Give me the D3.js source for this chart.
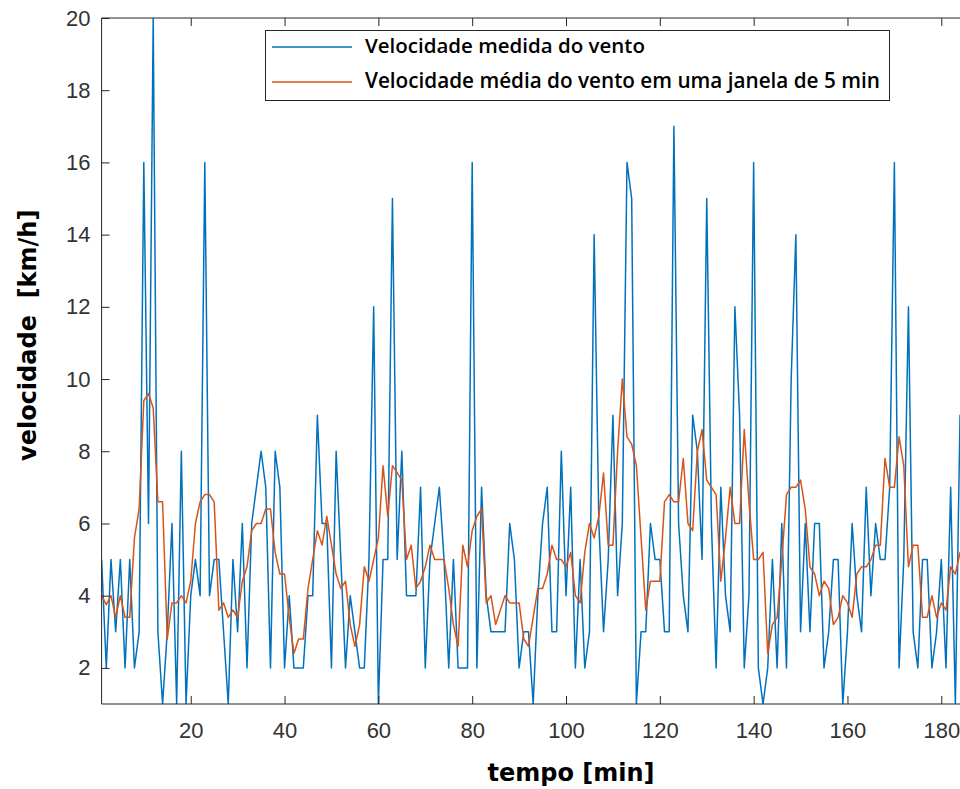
<!DOCTYPE html>
<html><head><meta charset="utf-8">
<script src="https://cdn.jsdelivr.net/npm/d3@7"></script>
<style>body{margin:0;background:#fff} svg{display:block}</style>
</head><body>
<svg id="c" width="960" height="789"></svg>
<script>
// minute-by-minute measured wind speed (km/h), minutes 1..186
const windMeasured = [
 5,2,5,3,5,2,5,2,3,16,
 6,20,3,1,3,6,1,8,1,4,
 5,4,16,4,5,5,3,1,5,3,
 6,2,6,7,8,7,2,8,7,2,
 4,2,2,2,4,4,9,6,6,2,
 8,5,2,4,3,2,2,5,12,1,
 5,5,15,5,8,4,4,4,7,2,
 5,6,7,5,2,5,2,2,2,16,
 2,7,4,3,3,3,3,6,5,2,
 3,3,1,4,6,7,3,3,8,4,
 7,2,5,2,3,14,6,3,5,9,
 4,6,16,15,1,3,3,6,5,5,
 3,3,17,6,4,3,9,8,5,15,
 6,2,7,4,3,12,9,2,4,16,
 2,1,2,5,2,6,2,10,14,3,
 6,3,6,6,2,3,5,5,1,3,
 6,4,3,7,4,6,5,5,7,16,
 2,5,12,3,2,5,5,2,3,5,
 2,7,1,9,4,5
];
// 5-minute window average, minutes 1..186
const windAverage = [
 4.0,3.75,4.0,3.4,4.0,3.4,3.4,5.6,6.4,9.4,
 9.6,9.2,6.6,6.6,2.8,3.8,3.8,4.0,3.8,4.4,
 6.0,6.6,6.8,6.8,6.6,3.6,3.8,3.4,3.6,3.4,
 4.4,4.8,5.8,6.0,6.0,6.4,6.4,5.2,4.6,4.6,
 3.4,2.4,2.8,2.8,4.2,5.0,5.8,5.4,6.2,5.4,
 4.6,4.2,4.4,3.2,2.6,3.2,4.8,4.4,5.0,5.6,
 7.6,6.2,7.6,7.4,7.2,5.0,5.4,4.2,4.4,4.8,
 5.4,5.0,5.0,5.0,4.2,3.2,2.6,5.4,4.8,5.8,
 6.2,6.4,3.8,4.0,3.2,3.6,4.0,3.8,3.8,3.8,
 2.8,2.6,3.4,4.2,4.2,4.6,5.4,5.0,5.0,4.8,
 5.2,4.0,3.8,5.2,6.0,5.6,6.2,7.4,5.4,5.4,
 8.0,10.0,8.4,8.2,7.6,5.6,3.6,4.4,4.4,4.4,
 6.6,6.8,6.6,6.6,7.8,6.0,5.8,8.0,8.6,7.2,
 7.0,6.8,4.4,5.6,7.0,6.0,6.0,8.6,6.6,5.0,
 5.0,5.2,2.4,3.2,3.4,5.0,6.8,7.0,7.0,7.2,
 6.4,4.8,4.6,4.0,4.4,4.2,3.2,3.4,4.0,3.8,
 3.4,4.6,4.8,4.8,5.0,5.4,5.4,7.8,7.0,7.0,
 8.4,7.6,4.8,5.4,5.4,3.4,3.4,4.0,3.4,3.8,
 3.6,4.8,4.6,5.2,4.6,5.0
];
const xTicks = [20,40,60,80,100,120,140,160,180];
const yTicks = [2,4,6,8,10,12,14,16,18,20];
const seriesNames = ["Velocidade medida do vento","Velocidade média do vento em uma janela de 5 min"];
const seriesColors = ["#0072BD","#D95319"];
const xLabel = "tempo [min]";
const yLabel = "velocidade  [km/h]";

const W = 960, H = 789;
const L = 101.6, T = 18, B = 704, step = 4.691;
const svg = d3.select("#c");
svg.append("rect").attr("width", W).attr("height", H).attr("fill", "#fff");

const x = d3.scaleLinear().domain([1, 190]).range([L, L + step * 189]);
const y = d3.scaleLinear().domain([1, 20]).range([B, T]);

svg.append("clipPath").attr("id", "plotclip")
  .append("rect").attr("x", L).attr("y", T).attr("width", x(190) - L).attr("height", B - T);

const line = d3.line().x((d, i) => x(i + 1)).y(d => y(d));
const g = svg.append("g").attr("clip-path", "url(#plotclip)");
g.append("path").datum(windMeasured).attr("d", line)
  .attr("fill", "none").attr("stroke", seriesColors[0]).attr("stroke-width", 1.5).attr("stroke-linejoin", "round");
g.append("path").datum(windAverage).attr("d", line)
  .attr("fill", "none").attr("stroke", seriesColors[1]).attr("stroke-width", 1.5).attr("stroke-linejoin", "round");

const axisColor = "#262626";
const tickFont = "'Liberation Sans', Arial, sans-serif";

// bottom axis
const gx = svg.append("g").attr("transform", `translate(0,${B})`)
  .call(d3.axisBottom(x).tickValues(xTicks).tickSize(-8).tickPadding(18).tickFormat(d3.format("d")));
// top ticks
const gxt = svg.append("g").attr("transform", `translate(0,${T})`)
  .call(d3.axisTop(x).tickValues(xTicks).tickSize(-8).tickFormat(""));
// left axis
const gy = svg.append("g").attr("transform", `translate(${L},0)`)
  .call(d3.axisLeft(y).tickValues(yTicks).tickSize(-8).tickPadding(11).tickFormat(d3.format("d")));

[gx, gxt, gy].forEach(a => {
  a.select(".domain").remove();
  a.selectAll(".tick line").attr("stroke", axisColor).attr("stroke-width", 1);
  a.selectAll(".tick text").attr("fill", "#333").style("font-family", tickFont).style("font-size", "22px");
});

// frame
svg.append("line").attr("x1", L).attr("x2", L).attr("y1", T).attr("y2", B).attr("stroke", axisColor);
svg.append("line").attr("x1", L).attr("x2", W).attr("y1", B).attr("y2", B).attr("stroke", axisColor);
svg.append("line").attr("x1", L).attr("x2", W).attr("y1", T).attr("y2", T).attr("stroke", axisColor);

// axis labels
const labelFont = "'DejaVu Sans', Verdana, sans-serif";
svg.append("text").attr("x", 571).attr("y", 781).attr("text-anchor", "middle")
  .style("font-family", labelFont).style("font-weight", "bold").style("font-size", "24px")
  .attr("fill", "#000").text(xLabel);
svg.append("text").attr("transform", "translate(36,461) rotate(-90)").attr("text-anchor", "start")
  .style("font-family", labelFont).style("font-weight", "bold").style("font-size", "24px")
  .style("white-space", "pre").attr("fill", "#000").text(yLabel);

// legend
function fitWidth(sel, target) {
  const w = sel.node().getComputedTextLength();
  const fs = parseFloat(sel.style("font-size"));
  sel.style("font-size", (fs * target / w) + "px");
}
const lg = svg.append("g");
lg.append("rect").attr("x", 265.5).attr("y", 30.5).attr("width", 624).attr("height", 70)
  .attr("fill", "#fff").attr("stroke", axisColor).attr("stroke-width", 1);
const rows = [47, 82];
const targets = [280, 515];
seriesNames.forEach((name, i) => {
  lg.append("line").attr("x1", 272).attr("x2", 352).attr("y1", rows[i]).attr("y2", rows[i])
    .attr("stroke", seriesColors[i]).attr("stroke-width", 1.5);
  const t = lg.append("text").attr("x", 365).attr("y", rows[i] + 6)
    .style("font-family", "'Open Sans', sans-serif").style("font-weight", "600").style("font-size", "16px")
    .attr("fill", "#000").text(name);
  fitWidth(t, targets[i]);
});
</script>
</body></html>
